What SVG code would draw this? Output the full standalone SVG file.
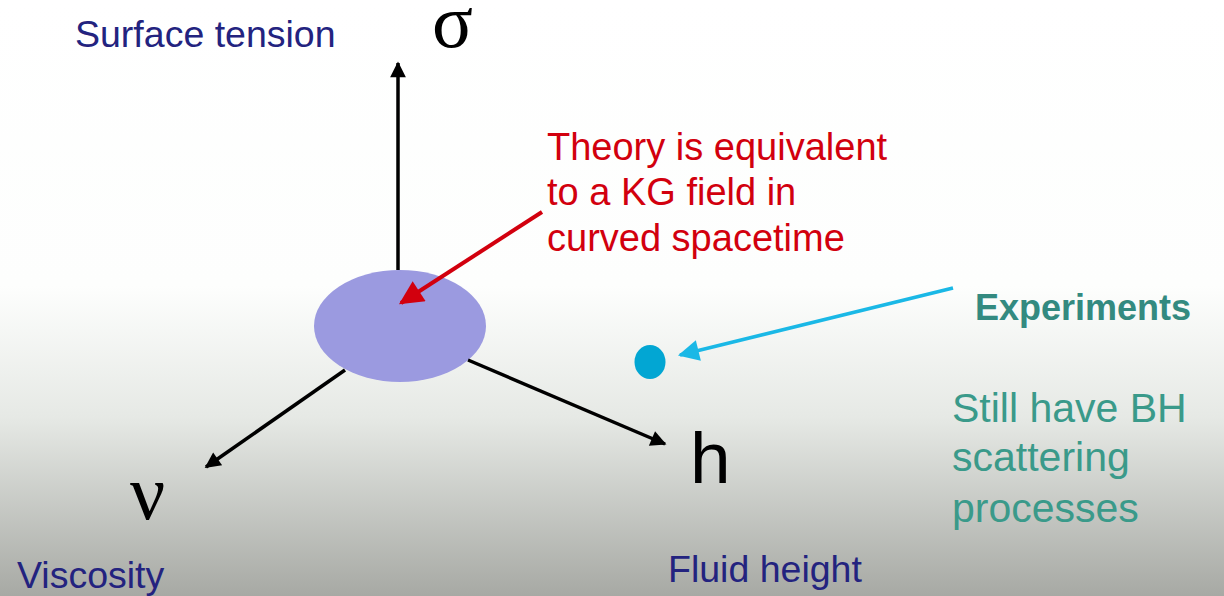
<svg xmlns="http://www.w3.org/2000/svg" width="1224" height="596" viewBox="0 0 1224 596">
<style>
.lbl{font-family:"Liberation Sans",Arial,sans-serif;font-size:37.5px;fill:#23237f}
.red{font-family:"Liberation Sans",Arial,sans-serif;font-size:38px;fill:#d2000e}
.teal{font-family:"Liberation Sans",Arial,sans-serif;font-size:41px;fill:#3a9a8a}
.sym{font-family:"Liberation Serif","Times New Roman",serif;fill:#000}
.axis{stroke:#000;stroke-width:3.5;fill:none}
</style>
<defs>
<linearGradient id="bg" x1="0" y1="0" x2="0" y2="1">
<stop offset="0" stop-color="#ffffff"/>
<stop offset="0.48" stop-color="#fdfefd"/>
<stop offset="0.7" stop-color="#e6e9e5"/>
<stop offset="1" stop-color="#a7a9a4"/>
</linearGradient>
<marker id="ab" viewBox="0 0 10 10" refX="9" refY="5" markerWidth="5.5" markerHeight="4.5" orient="auto" markerUnits="strokeWidth">
<path d="M0,0 L10,5 L0,10 z" fill="#000"/>
</marker>
<marker id="ar" viewBox="0 0 10 10" refX="9" refY="5" markerWidth="7" markerHeight="6" orient="auto" markerUnits="strokeWidth">
<path d="M0,0 L10,5 L0,10 z" fill="#d2000e"/>
</marker>
<marker id="ac" viewBox="0 0 10 10" refX="9" refY="5" markerWidth="6.5" markerHeight="6" orient="auto" markerUnits="strokeWidth">
<path d="M0,0 L10,5 L0,10 z" fill="#1ab8e6"/>
</marker>
</defs>
<rect x="0" y="0" width="1224" height="596" fill="url(#bg)"/>

<g id="theory-region">
<ellipse cx="400" cy="326" rx="86" ry="56" fill="#9b9ae0"/>
</g>

<g id="experiment-point">
<ellipse cx="650" cy="362" rx="15.5" ry="17" fill="#02a6d3"/>
</g>

<g id="connectors">
<line class="axis" x1="398" y1="270" x2="398" y2="63" marker-end="url(#ab)"/>
<line class="axis" x1="345" y1="370" x2="206" y2="467" marker-end="url(#ab)"/>
<line class="axis" x1="468" y1="360" x2="665" y2="444" marker-end="url(#ab)"/>
<line x1="542" y1="212" x2="401" y2="303" stroke="#d2000e" stroke-width="4" marker-end="url(#ar)"/>
<line x1="953" y1="288" x2="680" y2="355" stroke="#1ab8e6" stroke-width="3.5" marker-end="url(#ac)"/>
</g>

<g id="axis-sigma">
<text class="lbl" x="75" y="47">Surface tension</text>
<text class="sym" x="432" y="47" font-size="76">σ</text>
</g>

<g id="axis-nu">
<text class="sym" x="130" y="519" font-size="78">ν</text>
<text class="lbl" x="17" y="588">Viscosity</text>
</g>

<g id="axis-h">
<text x="690" y="483" font-family="'Liberation Sans',Arial,sans-serif" font-size="73" fill="#000">h</text>
<text class="lbl" x="668" y="582">Fluid height</text>
</g>

<g id="theory-note">
<text class="red" x="547" y="160">Theory is equivalent</text>
<text class="red" x="547" y="205">to a KG field in</text>
<text class="red" x="547" y="251">curved spacetime</text>
</g>

<g id="experiments-label">
<text x="975" y="320" font-family="'Liberation Sans',Arial,sans-serif" font-size="36" font-weight="bold" fill="#338a80">Experiments</text>
</g>

<g id="bh-note">
<text class="teal" x="952" y="422">Still have BH</text>
<text class="teal" x="952" y="471">scattering</text>
<text class="teal" x="952" y="522">processes</text>
</g>
</svg>
